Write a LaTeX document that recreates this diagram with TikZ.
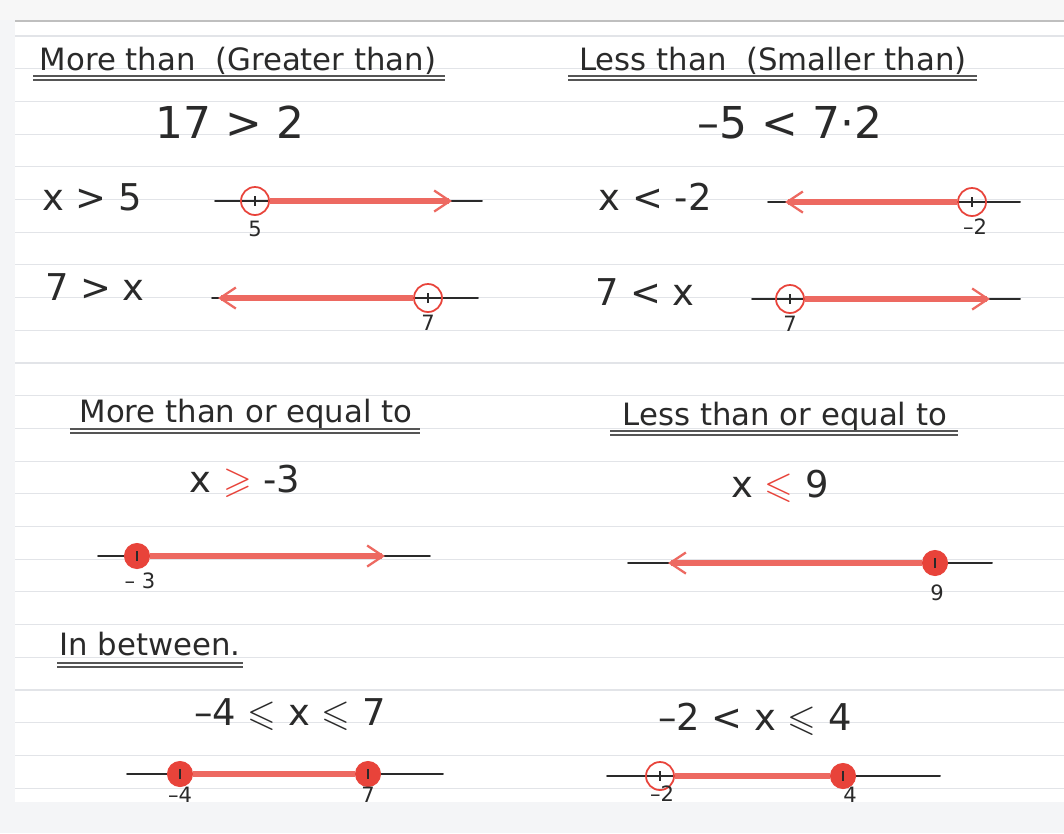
\documentclass[tikz,border=0pt]{standalone}
\usepackage{amssymb}
\usepackage{fontspec}
\setmainfont{DejaVu Sans}
\usetikzlibrary{arrows.meta}

\definecolor{inkred}{HTML}{E8433A}
\definecolor{ruleline}{HTML}{E2E4E8}
\definecolor{pageedge}{HTML}{F4F5F7}
\definecolor{ink}{HTML}{2A2A2A}

\begin{document}
\begin{tikzpicture}[x=0.02cm, y=-0.02cm,
    heading/.style={font=\fontsize{17.5}{20}\selectfont, text=ink, anchor=base, inner sep=0pt},
    sample/.style={font=\fontsize{25}{30}\selectfont, text=ink, anchor=base, inner sep=0pt},
    ineq/.style={font=\fontsize{21}{25}\selectfont, text=ink, anchor=base, inner sep=0pt},
    numlbl/.style={font=\fontsize{12}{14}\selectfont, text=ink, anchor=base, inner sep=0pt},
    numline/.style={draw=ink, line width=1.1pt, line cap=round},
    uline/.style={draw=ink!80, line width=1.3pt},
    rule/.style={draw=ruleline, line width=0.6pt},
    opendot/.style={circle, draw=inkred, line width=1pt, minimum size=0.56cm, inner sep=0pt},
    fulldot/.style={circle, draw=inkred, fill=inkred, line width=0.6pt, minimum size=0.5cm, inner sep=0pt},
    redarrow/.style={draw=inkred!80, line width=3.2pt, -{Straight Barb[length=9pt, width=12pt, line width=1.3pt]}},
    redbar/.style={draw=inkred!80, line width=3.2pt},
    tick/.style={draw=ink, line width=0.8pt}
]
    \useasboundingbox (0,0) rectangle (1064,833);

    % Page
    \fill[pageedge] (0,0) rectangle (1064,833);
    \fill[white] (15,22) rectangle (1064,802);
    \fill[white!97!black] (0,0) rectangle (1064,20);
    \draw[draw=black!25, line width=1.2pt] (15,21) -- (1064,21);
    \foreach \k in {0,...,23}
        \draw[rule] (15,{36+32.7*\k}) -- (1064,{36+32.7*\k});

    % Headings
    \node[heading] (hMore) at (238,70) {More than \ (Greater than)};
    \node[heading] (hLess) at (773,70) {Less than \ (Smaller than)};
    \node[heading] (hMoreEq) at (246,422) {More than or equal to};
    \node[heading] (hLessEq) at (785,425) {Less than or equal to};
    \node[heading] (hBetween) at (150,655) {In between.};
    \draw[uline] (33,76) -- (445,76) (33,80) -- (445,80);
    \draw[uline] (568,76) -- (977,76) (568,80) -- (977,80);
    \draw[uline] (70,429) -- (420,429) (70,433) -- (420,433);
    \draw[uline] (610,431) -- (958,431) (610,435) -- (958,435);
    \draw[uline] (57,663) -- (243,663) (57,667) -- (243,667);

    % Examples
    \node[sample] (egMore) at (230,138) {17 > 2};
    \node[sample] (egLess) at (790,138) {–5 < 7·2};

    % Inequalities
    \node[ineq] (inA) at (92,210) {x > 5};
    \node[ineq] (inB) at (95,300) {7 > x};
    \node[ineq] (inC) at (655,210) {x < -2};
    \node[ineq] (inD) at (645,305) {7 < x};
    \node[ineq] (inE) at (245,492) {x {\color{inkred}$\geqslant$} -3};
    \node[ineq] (inF) at (780,497) {x {\color{inkred}$\leqslant$} 9};
    \node[ineq] (inG) at (290,725) {–4 $\leqslant$ x $\leqslant$ 7};
    \node[ineq] (inH) at (755,730) {–2 < x $\leqslant$ 4};

    % x > 5
    \draw[numline] (215,201) -- (482,201);
    \node[opendot] (dA) at (255,201) {};
    \coordinate (eA) at (452,201);
    \draw[redarrow] (dA) -- (eA);
    \node[numlbl] (lA) at (255,236) {5};

    % 7 > x
    \draw[numline] (212,298) -- (478,298);
    \node[opendot] (dB) at (428,298) {};
    \coordinate (eB) at (218,298);
    \draw[redarrow] (dB) -- (eB);
    \node[numlbl] (lB) at (428,330) {7};

    % x < -2
    \draw[numline] (768,202) -- (1020,202);
    \node[opendot] (dC) at (972,202) {};
    \coordinate (eC) at (785,202);
    \draw[redarrow] (dC) -- (eC);
    \node[numlbl] (lC) at (975,234) {–2};

    % 7 < x
    \draw[numline] (752,299) -- (1020,299);
    \node[opendot] (dD) at (790,299) {};
    \coordinate (eD) at (990,299);
    \draw[redarrow] (dD) -- (eD);
    \node[numlbl] (lD) at (790,331) {7};

    % x >= -3
    \draw[numline] (98,556) -- (430,556);
    \node[fulldot] (dE) at (137,556) {};
    \coordinate (eE) at (385,556);
    \draw[redarrow] (dE) -- (eE);
    \node[numlbl] (lE) at (140,588) {– 3};

    % x <= 9
    \draw[numline] (628,563) -- (992,563);
    \node[fulldot] (dF) at (935,563) {};
    \coordinate (eF) at (668,563);
    \draw[redarrow] (dF) -- (eF);
    \node[numlbl] (lF) at (937,600) {9};

    % -4 <= x <= 7
    \draw[numline] (127,774) -- (443,774);
    \node[fulldot] (dG1) at (180,774) {};
    \node[fulldot] (dG2) at (368,774) {};
    \draw[redbar] (dG1) -- (dG2);
    \node[numlbl] (lG1) at (180,802) {–4};
    \node[numlbl] (lG2) at (368,802) {7};

    % -2 < x <= 4
    \draw[numline] (607,776) -- (940,776);
    \node[opendot] (dH1) at (660,776) {};
    \node[fulldot] (dH2) at (843,776) {};
    \draw[redbar] (dH1) -- (dH2);
    \node[numlbl] (lH1) at (662,801) {–2};
    \node[numlbl] (lH2) at (850,802) {4};

    % ticks
    \foreach \d in {dA,dB,dC,dD,dE,dF,dG1,dG2,dH1,dH2}
        \draw[tick] (\d.center) ++(0,-5) -- ++(0,10);
\end{tikzpicture}
\end{document}
